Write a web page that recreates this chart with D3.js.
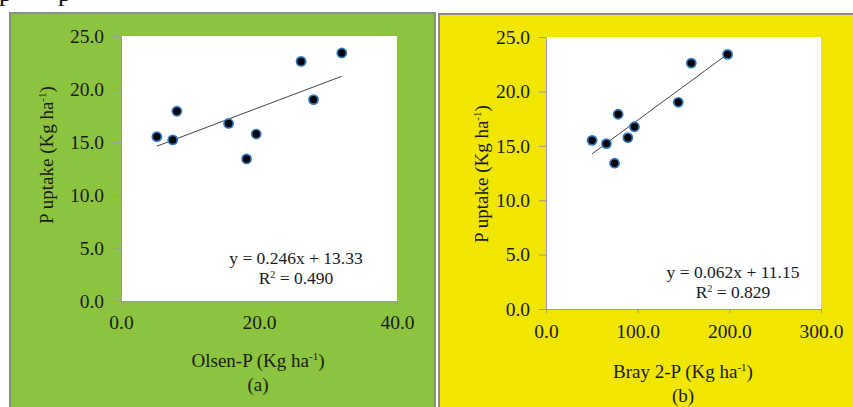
<!DOCTYPE html>
<html>
<head>
<meta charset="utf-8">
<script src="https://cdn.jsdelivr.net/npm/d3@7"></script>
<style>
  body { margin: 0; background: #fff; }
  svg { display: block; font-family: "Liberation Serif", "Times New Roman", serif; }
</style>
</head>
<body>
<script>
// P uptake for the nine sites, shared by both panels
const uptake = [15.5, 15.2, 17.9, 16.75, 15.75, 13.4, 22.6, 19.0, 23.4];
// Soil test P by method
const olsenP = [5.2, 7.5, 8.1, 15.6, 19.6, 18.2, 26.1, 27.9, 32.0];
const brayP = [50.3, 65.9, 78.7, 96.5, 89.3, 74.8, 158.5, 144.3, 198.1];

const yTicks = [0, 5, 10, 15, 20, 25];
const olsenTicks = [0, 20, 40];
const brayTicks = [0, 100, 200, 300];

// linear fits as printed on the chart
const olsenFit = { slope: 0.246, intercept: 13.33, r2: "0.490" };
const brayFit = { slope: 0.062, intercept: 11.15, r2: "0.829" };

const width = 853, height = 407;

const svg = d3.select("body").append("svg")
    .attr("width", width)
    .attr("height", height);

// soft blue halo behind each marker
const defs = svg.append("defs");
defs.append("filter")
    .attr("id", "glow")
    .attr("x", "-50%").attr("y", "-50%")
    .attr("width", "200%").attr("height", "200%")
  .append("feGaussianBlur")
    .attr("stdDeviation", 0.7);

// cut-off line of the page text above the figure
svg.append("g")
    .attr("font-size", 26)
    .attr("fill", "#111")
  .selectAll("text")
  .data([-1, 58])
  .join("text")
    .attr("x", d => d)
    .attr("y", 1)
    .text("p");

function drawPanel(opt) {
  const g = svg.append("g");

  g.append("rect")
      .attr("x", opt.box[0])
      .attr("y", opt.box[1])
      .attr("width", opt.box[2])
      .attr("height", opt.box[3])
      .attr("fill", opt.bg)
      .attr("stroke", "#8c8c8c")
      .attr("stroke-width", 2);

  const x = d3.scaleLinear().domain(opt.xDomain).range(opt.xRange);
  const y = d3.scaleLinear().domain([0, 25]).range(opt.yRange);

  // plot area
  g.append("rect")
      .attr("x", opt.xRange[0])
      .attr("y", opt.yRange[1])
      .attr("width", opt.xRange[1] - opt.xRange[0])
      .attr("height", opt.yRange[0] - opt.yRange[1])
      .attr("fill", "#fff");

  const yAxis = g.append("g")
      .attr("transform", `translate(${opt.xRange[0]},0)`)
      .call(d3.axisLeft(y).tickValues(yTicks).tickFormat(d3.format(".1f"))
        .tickSize(7).tickSizeOuter(0).tickPadding(opt.yPad));

  const xAxis = g.append("g")
      .attr("transform", `translate(0,${opt.yRange[0]})`)
      .call(d3.axisBottom(x).tickValues(opt.xTicks).tickFormat(d3.format(".1f"))
        .tickSize(4).tickSizeOuter(0).tickPadding(opt.xPad));

  [yAxis, xAxis].forEach(a => {
    a.attr("font-family", null).attr("font-size", 19.5);
    a.selectAll("path, line").attr("stroke", "#9a9a9a");
    a.selectAll("text").attr("fill", "#1a1a1a");
  });

  // trend line across the data range
  const xs = d3.extent(opt.xs);
  g.append("line")
      .attr("x1", x(xs[0]))
      .attr("y1", y(opt.fit.slope * xs[0] + opt.fit.intercept))
      .attr("x2", x(xs[1]))
      .attr("y2", y(opt.fit.slope * xs[1] + opt.fit.intercept))
      .attr("stroke", "#444")
      .attr("stroke-width", 1);

  const pts = g.append("g")
    .selectAll("g")
    .data(opt.xs.map((v, i) => [v, uptake[i]]))
    .join("g")
      .attr("transform", d => `translate(${x(d[0])},${y(d[1])})`);
  pts.append("circle")
      .attr("r", 5.4)
      .attr("fill", "#2f78c0")
      .attr("filter", "url(#glow)");
  pts.append("circle")
      .attr("r", 3.7)
      .attr("fill", "#050505");

  // equation
  const eq = g.append("text")
      .attr("text-anchor", "middle")
      .attr("font-size", 17.5)
      .attr("fill", "#1a1a1a");
  eq.append("tspan")
      .attr("x", opt.eqPos[0])
      .attr("y", opt.eqPos[1])
      .text(`y = ${opt.fit.slope.toFixed(3)}x + ${opt.fit.intercept.toFixed(2)}`);
  const r = eq.append("tspan")
      .attr("x", opt.eqPos[0])
      .attr("y", opt.eqPos[1] + 20);
  r.append("tspan").text("R");
  r.append("tspan").attr("font-size", 10).attr("dy", -6).text("2");
  r.append("tspan").attr("dy", 6).text(` = ${opt.fit.r2}`);

  // axis titles
  const xt = g.append("text")
      .attr("text-anchor", "middle")
      .attr("font-size", 19)
      .attr("fill", "#1a1a1a")
      .attr("x", opt.xTitlePos[0])
      .attr("y", opt.xTitlePos[1]);
  unitLabel(xt, opt.xTitle);

  g.append("text")
      .attr("text-anchor", "middle")
      .attr("font-size", 19)
      .attr("fill", "#1a1a1a")
      .attr("x", opt.xTitlePos[0])
      .attr("y", opt.xTitlePos[1] + 24)
      .text(opt.tag);

  const yt = g.append("text")
      .attr("text-anchor", "middle")
      .attr("font-size", 19)
      .attr("fill", "#1a1a1a")
      .attr("transform", `translate(${opt.yTitlePos[0]},${opt.yTitlePos[1]}) rotate(-90)`)
      .attr("dy", "0.35em");
  unitLabel(yt, "P uptake");
}

function unitLabel(sel, name) {
  sel.append("tspan").text(`${name} (Kg ha`);
  sel.append("tspan").attr("font-size", 11).attr("dy", -7).text("-1");
  sel.append("tspan").attr("dy", 7).text(")");
}

drawPanel({
  box: [10, 13, 425, 400],
  bg: "#8cc43f",
  xDomain: [0, 40],
  xRange: [121, 397],
  yRange: [301, 36],
  xTicks: olsenTicks,
  xs: olsenP,
  fit: olsenFit,
  yPad: 10,
  xPad: 10,
  eqPos: [296, 264],
  xTitle: "Olsen-P",
  xTitlePos: [258, 367],
  tag: "(a)",
  yTitlePos: [46, 155]
});

drawPanel({
  box: [439, 14, 420, 400],
  bg: "#f0e600",
  xDomain: [0, 300],
  xRange: [546, 821],
  yRange: [309, 37],
  xTicks: brayTicks,
  xs: brayP,
  fit: brayFit,
  yPad: 9,
  xPad: 11,
  eqPos: [733, 278],
  xTitle: "Bray 2-P",
  xTitlePos: [683, 378],
  tag: "(b)",
  yTitlePos: [481, 174]
});
</script>
</body>
</html>
